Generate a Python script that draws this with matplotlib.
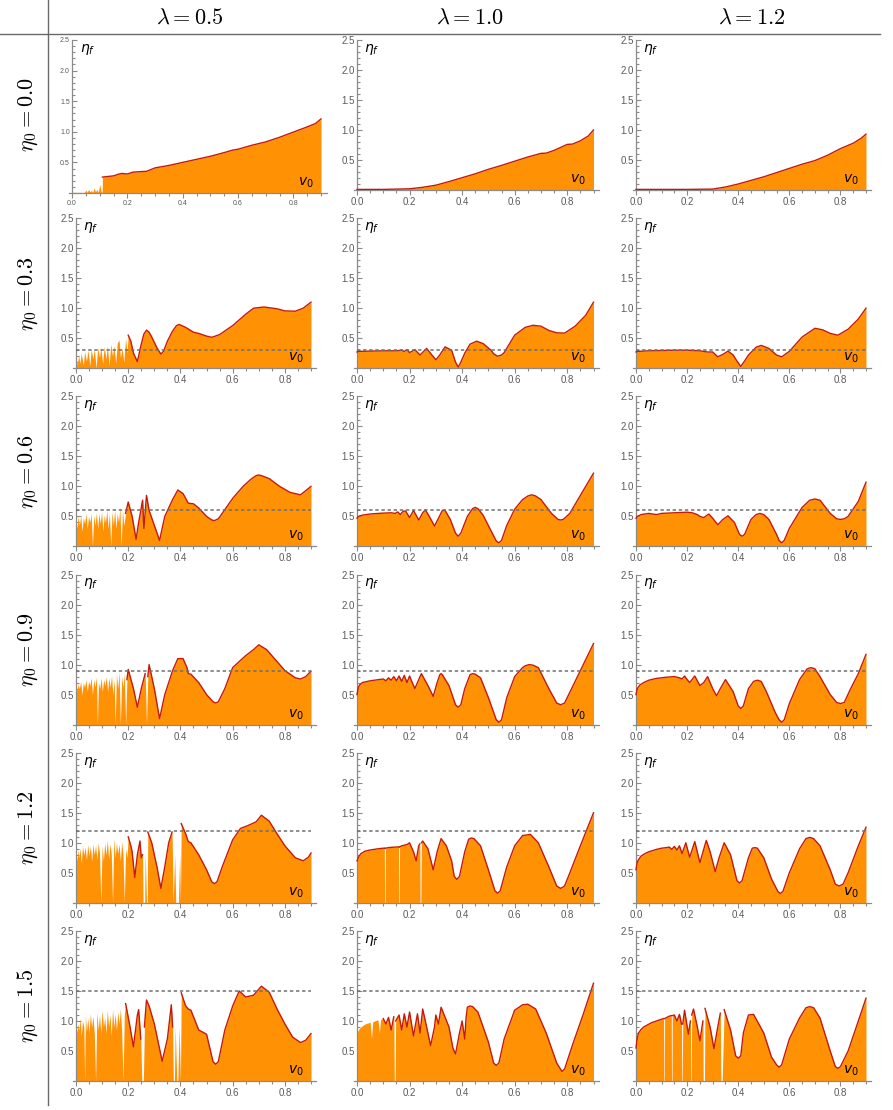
import matplotlib.pyplot as plt
import numpy as np
from matplotlib.lines import Line2D
from matplotlib.ticker import FixedLocator, MultipleLocator

plt.rcParams['font.family'] = ['Liberation Sans', 'DejaVu Sans']
plt.rcParams['mathtext.fontset'] = 'dejavusans'

lambda_labels = ['0.5', '1.0', '1.2']
eta0_values = [0.0, 0.3, 0.6, 0.9, 1.2, 1.5]
eta0_labels = ['0.0', '0.3', '0.6', '0.9', '1.2', '1.5']

# (v0, eta_f) pairs, eta_f = 0.0 marks a white gap
curve_l05_e00 = [(0.0, 0.01), (0.03, 0.01), (0.045, 0.01), (0.05, 0.05), (0.055, 0.01), (0.06, 0.06),
                 (0.065, 0.02), (0.07, 0.04), (0.075, 0.01), (0.08, 0.08), (0.085, 0.02), (0.09, 0.06),
                 (0.095, 0.01), (0.1, 0.14), (0.105, 0.03), (0.109, 0.01), (0.11, 0.26), (0.13, 0.27),
                 (0.15, 0.28), (0.17, 0.31), (0.18, 0.32), (0.2, 0.31), (0.22, 0.34), (0.25, 0.35),
                 (0.27, 0.355), (0.3, 0.41), (0.35, 0.45), (0.4, 0.50), (0.45, 0.55), (0.5, 0.60),
                 (0.55, 0.66), (0.58, 0.7), (0.6, 0.715), (0.65, 0.78), (0.7, 0.835), (0.75, 0.91),
                 (0.8, 0.995), (0.85, 1.08), (0.88, 1.135), (0.9, 1.21)]
curve_l10_e00 = [(0.0, 0.01), (0.1, 0.01), (0.2, 0.02), (0.25, 0.045), (0.3, 0.08), (0.35, 0.14),
                 (0.4, 0.205), (0.45, 0.27), (0.5, 0.345), (0.55, 0.41), (0.6, 0.48), (0.65, 0.55),
                 (0.7, 0.61), (0.72, 0.615), (0.75, 0.66), (0.8, 0.76), (0.82, 0.765), (0.85, 0.82),
                 (0.88, 0.9), (0.9, 1.0)]
curve_l12_e00 = [(0.0, 0.01), (0.1, 0.01), (0.2, 0.01), (0.3, 0.015), (0.35, 0.05), (0.4, 0.10),
                 (0.45, 0.16), (0.5, 0.22), (0.55, 0.29), (0.6, 0.36), (0.65, 0.43), (0.7, 0.49),
                 (0.75, 0.58), (0.8, 0.69), (0.85, 0.78), (0.88, 0.86), (0.9, 0.93)]

curve_l05_e03 = [(0.0, 0.2), (0.005, 0.05), (0.01, 0.22), (0.015, 0.08), (0.02, 0.25), (0.028, 0.05),
                 (0.033, 0.27), (0.04, 0.12), (0.046, 0.3), (0.053, 0.04), (0.058, 0.32), (0.065, 0.15),
                 (0.07, 0.33), (0.077, 0.0), (0.083, 0.34), (0.09, 0.18), (0.095, 0.35), (0.102, 0.08),
                 (0.108, 0.36), (0.115, 0.15), (0.12, 0.38), (0.127, 0.04), (0.133, 0.4), (0.14, 0.2),
                 (0.145, 0.38), (0.152, 0.08), (0.158, 0.42), (0.165, 0.47), (0.17, 0.18), (0.177, 0.33),
                 (0.183, 0.1), (0.19, 0.5), (0.195, 0.25), (0.2, 0.55), (0.21, 0.45), (0.22, 0.25),
                 (0.235, 0.11), (0.25, 0.4), (0.26, 0.57), (0.27, 0.635), (0.28, 0.6), (0.29, 0.52),
                 (0.31, 0.34), (0.325, 0.235), (0.335, 0.28), (0.35, 0.45), (0.37, 0.62), (0.385, 0.71),
                 (0.395, 0.73), (0.42, 0.68), (0.45, 0.6), (0.47, 0.58), (0.5, 0.535), (0.52, 0.515),
                 (0.55, 0.56), (0.6, 0.71), (0.65, 0.9), (0.68, 1.0), (0.72, 1.02), (0.77, 0.99),
                 (0.8, 0.955), (0.84, 0.95), (0.87, 1.0), (0.9, 1.1)]
curve_l10_e03 = [(0.0, 0.27), (0.005, 0.28), (0.05, 0.285), (0.1, 0.29), (0.15, 0.29), (0.17, 0.3),
                 (0.18, 0.28), (0.19, 0.31), (0.2, 0.26), (0.22, 0.31), (0.24, 0.22), (0.265, 0.33),
                 (0.285, 0.22), (0.3, 0.14), (0.315, 0.22), (0.335, 0.355), (0.36, 0.3), (0.375, 0.1),
                 (0.385, 0.02), (0.395, 0.1), (0.41, 0.25), (0.43, 0.4), (0.455, 0.45), (0.48, 0.41),
                 (0.51, 0.3), (0.52, 0.24), (0.535, 0.2), (0.55, 0.22), (0.56, 0.26), (0.6, 0.55),
                 (0.64, 0.68), (0.67, 0.715), (0.7, 0.7), (0.73, 0.63), (0.76, 0.59), (0.79, 0.585),
                 (0.83, 0.7), (0.87, 0.88), (0.9, 1.1)]
curve_l12_e03 = [(0.0, 0.27), (0.005, 0.28), (0.05, 0.29), (0.1, 0.295), (0.15, 0.3), (0.2, 0.3),
                 (0.25, 0.29), (0.28, 0.27), (0.3, 0.27), (0.32, 0.19), (0.34, 0.23), (0.36, 0.285),
                 (0.38, 0.22), (0.395, 0.12), (0.41, 0.03), (0.425, 0.12), (0.44, 0.22), (0.47, 0.35),
                 (0.49, 0.38), (0.52, 0.33), (0.55, 0.22), (0.57, 0.19), (0.6, 0.28), (0.65, 0.52),
                 (0.7, 0.665), (0.73, 0.64), (0.76, 0.58), (0.79, 0.55), (0.83, 0.65), (0.87, 0.82),
                 (0.9, 1.0)]

curve_l05_e06 = [(0.0, 0.45), (0.004, 0.3), (0.008, 0.5), (0.013, 0.35), (0.018, 0.52), (0.023, 0.25),
                 (0.028, 0.48), (0.033, 0.38), (0.038, 0.55), (0.043, 0.3), (0.048, 0.5), (0.053, 0.4),
                 (0.058, 0.55), (0.063, 0.0), (0.068, 0.52), (0.073, 0.35), (0.078, 0.56), (0.083, 0.3),
                 (0.088, 0.55), (0.093, 0.38), (0.098, 0.58), (0.103, 0.25), (0.108, 0.52), (0.113, 0.4),
                 (0.118, 0.6), (0.123, 0.3), (0.128, 0.55), (0.133, 0.0), (0.138, 0.58), (0.143, 0.35),
                 (0.148, 0.6), (0.153, 0.3), (0.158, 0.55), (0.163, 0.4), (0.168, 0.65), (0.173, 0.0),
                 (0.178, 0.6), (0.183, 0.35), (0.19, 0.55), (0.2, 0.74), (0.215, 0.5), (0.23, 0.12),
                 (0.24, 0.4), (0.255, 0.77), (0.26, 0.3), (0.27, 0.85), (0.28, 0.6), (0.3, 0.35),
                 (0.32, 0.1), (0.34, 0.5), (0.37, 0.78), (0.39, 0.94), (0.41, 0.88), (0.43, 0.72),
                 (0.45, 0.71), (0.47, 0.64), (0.5, 0.5), (0.52, 0.44), (0.53, 0.43), (0.545, 0.46),
                 (0.56, 0.55), (0.6, 0.8), (0.64, 1.0), (0.67, 1.12), (0.69, 1.18), (0.7, 1.19),
                 (0.71, 1.18), (0.74, 1.13), (0.78, 1.0), (0.82, 0.9), (0.86, 0.86), (0.9, 1.0)]
curve_l10_e06 = [(0.0, 0.47), (0.005, 0.5), (0.02, 0.52), (0.05, 0.54), (0.1, 0.555), (0.13, 0.56),
                 (0.145, 0.55), (0.155, 0.575), (0.165, 0.53), (0.175, 0.585), (0.185, 0.59), (0.2, 0.48),
                 (0.215, 0.6), (0.235, 0.44), (0.25, 0.56), (0.26, 0.61), (0.275, 0.5), (0.295, 0.34),
                 (0.31, 0.47), (0.325, 0.6), (0.335, 0.6), (0.355, 0.45), (0.375, 0.22), (0.385, 0.17),
                 (0.395, 0.22), (0.42, 0.5), (0.44, 0.63), (0.45, 0.65), (0.46, 0.63), (0.48, 0.52),
                 (0.51, 0.26), (0.53, 0.09), (0.54, 0.06), (0.55, 0.1), (0.57, 0.35), (0.6, 0.62),
                 (0.63, 0.78), (0.65, 0.84), (0.665, 0.86), (0.68, 0.84), (0.7, 0.78), (0.74, 0.55),
                 (0.765, 0.45), (0.775, 0.44), (0.785, 0.45), (0.81, 0.55), (0.85, 0.85), (0.9, 1.22)]
curve_l12_e06 = [(0.0, 0.47), (0.005, 0.5), (0.02, 0.53), (0.05, 0.55), (0.08, 0.53), (0.1, 0.55),
                 (0.15, 0.56), (0.2, 0.57), (0.22, 0.56), (0.24, 0.53), (0.25, 0.5), (0.265, 0.48),
                 (0.285, 0.54), (0.3, 0.47), (0.32, 0.36), (0.34, 0.45), (0.36, 0.51), (0.385, 0.4),
                 (0.405, 0.2), (0.415, 0.17), (0.425, 0.2), (0.45, 0.45), (0.47, 0.53), (0.485, 0.55),
                 (0.5, 0.53), (0.52, 0.45), (0.55, 0.2), (0.56, 0.1), (0.57, 0.06), (0.58, 0.1),
                 (0.6, 0.3), (0.65, 0.65), (0.68, 0.77), (0.7, 0.79), (0.72, 0.77), (0.76, 0.55),
                 (0.785, 0.46), (0.8, 0.45), (0.815, 0.46), (0.83, 0.5), (0.87, 0.75), (0.9, 1.07)]

curve_l05_e09 = [(0.0, 0.7), (0.004, 0.55), (0.008, 0.68), (0.013, 0.6), (0.018, 0.72), (0.023, 0.5),
                 (0.028, 0.7), (0.033, 0.62), (0.038, 0.75), (0.043, 0.55), (0.048, 0.72), (0.053, 0.65),
                 (0.058, 0.78), (0.063, 0.5), (0.068, 0.75), (0.073, 0.62), (0.078, 0.8), (0.082, 0.0),
                 (0.086, 0.7), (0.091, 0.6), (0.096, 0.78), (0.101, 0.55), (0.106, 0.75), (0.111, 0.65),
                 (0.116, 0.8), (0.121, 0.55), (0.126, 0.78), (0.131, 0.62), (0.136, 0.82), (0.141, 0.5),
                 (0.146, 0.75), (0.15, 0.0), (0.155, 0.85), (0.16, 0.6), (0.165, 0.88), (0.17, 0.0),
                 (0.175, 0.8), (0.18, 0.62), (0.185, 0.85), (0.19, 0.0), (0.195, 0.75), (0.2, 0.92),
                 (0.22, 0.6), (0.235, 0.29), (0.25, 0.6), (0.265, 0.85), (0.27, 0.0), (0.275, 0.8),
                 (0.28, 1.0), (0.3, 0.6), (0.32, 0.1), (0.34, 0.5), (0.37, 0.9), (0.39, 1.1),
                 (0.41, 1.1), (0.425, 0.95), (0.43, 0.85), (0.44, 0.84), (0.47, 0.7), (0.5, 0.5),
                 (0.525, 0.38), (0.535, 0.36), (0.545, 0.38), (0.57, 0.6), (0.6, 0.95), (0.65, 1.15),
                 (0.68, 1.25), (0.7, 1.33), (0.73, 1.25), (0.76, 1.1), (0.8, 0.9), (0.84, 0.78),
                 (0.86, 0.76), (0.88, 0.8), (0.9, 0.89)]
curve_l10_e09 = [(0.0, 0.5), (0.005, 0.62), (0.01, 0.66), (0.02, 0.7), (0.05, 0.73), (0.1, 0.76),
                 (0.11, 0.73), (0.12, 0.78), (0.13, 0.74), (0.14, 0.8), (0.15, 0.73), (0.16, 0.81),
                 (0.17, 0.72), (0.18, 0.82), (0.19, 0.7), (0.2, 0.81), (0.22, 0.6), (0.245, 0.85),
                 (0.27, 0.65), (0.29, 0.47), (0.305, 0.7), (0.315, 0.83), (0.32, 0.85), (0.325, 0.83),
                 (0.35, 0.65), (0.375, 0.33), (0.385, 0.29), (0.395, 0.33), (0.41, 0.6), (0.43, 0.83),
                 (0.44, 0.85), (0.45, 0.84), (0.47, 0.78), (0.5, 0.45), (0.53, 0.08), (0.54, 0.04),
                 (0.55, 0.08), (0.57, 0.45), (0.6, 0.8), (0.63, 0.95), (0.64, 0.98), (0.655, 1.0),
                 (0.67, 0.99), (0.69, 0.95), (0.73, 0.6), (0.76, 0.36), (0.775, 0.33), (0.79, 0.36),
                 (0.8, 0.45), (0.85, 0.9), (0.9, 1.35)]
curve_l12_e09 = [(0.0, 0.5), (0.005, 0.6), (0.015, 0.66), (0.03, 0.7), (0.05, 0.74), (0.08, 0.77),
                 (0.12, 0.79), (0.15, 0.8), (0.17, 0.78), (0.18, 0.76), (0.19, 0.81), (0.2, 0.75),
                 (0.21, 0.7), (0.23, 0.81), (0.25, 0.65), (0.265, 0.7), (0.28, 0.8), (0.3, 0.6),
                 (0.315, 0.48), (0.33, 0.6), (0.35, 0.75), (0.38, 0.55), (0.4, 0.31), (0.41, 0.27),
                 (0.42, 0.31), (0.44, 0.6), (0.46, 0.72), (0.475, 0.74), (0.49, 0.72), (0.51, 0.55),
                 (0.545, 0.2), (0.56, 0.08), (0.57, 0.04), (0.58, 0.08), (0.6, 0.35), (0.64, 0.75),
                 (0.67, 0.93), (0.685, 0.95), (0.7, 0.93), (0.72, 0.8), (0.76, 0.5), (0.785, 0.37),
                 (0.8, 0.35), (0.815, 0.37), (0.84, 0.6), (0.87, 0.85), (0.9, 1.17)]

curve_l05_e12 = [(0.0, 0.9), (0.004, 0.7), (0.008, 0.88), (0.012, 0.75), (0.016, 0.92), (0.02, 0.65),
                 (0.025, 0.95), (0.03, 0.8), (0.035, 0.93), (0.04, 0.72), (0.045, 0.97), (0.05, 0.78),
                 (0.055, 0.95), (0.06, 0.7), (0.065, 0.98), (0.07, 0.8), (0.075, 0.96), (0.08, 0.72),
                 (0.085, 1.0), (0.09, 0.82), (0.095, 0.0), (0.1, 0.95), (0.105, 0.7), (0.11, 1.0),
                 (0.115, 0.8), (0.12, 1.05), (0.125, 0.72), (0.13, 0.98), (0.135, 0.82), (0.14, 0.0),
                 (0.145, 1.08), (0.15, 0.75), (0.155, 1.0), (0.16, 0.82), (0.165, 0.98), (0.17, 0.7),
                 (0.175, 1.02), (0.18, 0.8), (0.185, 0.0), (0.19, 0.9), (0.195, 0.75), (0.2, 1.1),
                 (0.21, 0.95), (0.215, 0.85), (0.225, 0.42), (0.235, 0.8), (0.245, 1.03), (0.25, 0.75),
                 (0.255, 0.8), (0.257, 0.0), (0.263, 0.0), (0.265, 0.85), (0.27, 0.0), (0.273, 0.0),
                 (0.275, 1.18), (0.29, 1.0), (0.31, 0.6), (0.325, 0.24), (0.34, 0.6), (0.355, 1.0),
                 (0.368, 1.18), (0.372, 0.0), (0.378, 0.8), (0.382, 0.0), (0.392, 0.0), (0.397, 0.8),
                 (0.4, 0.0), (0.403, 1.32), (0.42, 1.15), (0.43, 1.02), (0.44, 1.0), (0.47, 0.8),
                 (0.5, 0.55), (0.52, 0.35), (0.53, 0.32), (0.54, 0.35), (0.56, 0.6), (0.6, 1.05),
                 (0.63, 1.24), (0.66, 1.29), (0.69, 1.35), (0.71, 1.46), (0.74, 1.36), (0.77, 1.15),
                 (0.8, 0.95), (0.84, 0.75), (0.87, 0.7), (0.89, 0.76), (0.9, 0.83)]
curve_l10_e12 = [(0.0, 0.7), (0.008, 0.78), (0.015, 0.82), (0.03, 0.86), (0.05, 0.88), (0.08, 0.9),
                 (0.1, 0.91), (0.104, 0.91), (0.105, 0.0), (0.107, 0.0), (0.108, 0.91), (0.12, 0.92),
                 (0.148, 0.93), (0.158, 0.93), (0.159, 0.0), (0.161, 0.0), (0.162, 0.93), (0.17, 0.95),
                 (0.19, 0.97), (0.2, 1.0), (0.215, 0.85), (0.225, 0.7), (0.235, 0.95), (0.239, 0.98),
                 (0.24, 0.0), (0.243, 0.0), (0.245, 1.0), (0.25, 1.03), (0.27, 0.9), (0.29, 0.55),
                 (0.305, 0.85), (0.32, 1.07), (0.34, 0.95), (0.36, 0.7), (0.37, 0.44), (0.38, 0.39),
                 (0.39, 0.44), (0.41, 0.85), (0.425, 1.06), (0.435, 1.08), (0.445, 1.07), (0.47, 0.95),
                 (0.5, 0.55), (0.525, 0.2), (0.535, 0.16), (0.545, 0.2), (0.57, 0.6), (0.6, 0.95),
                 (0.63, 1.12), (0.66, 1.14), (0.69, 1.0), (0.73, 0.6), (0.76, 0.28), (0.775, 0.24),
                 (0.79, 0.28), (0.81, 0.5), (0.85, 0.95), (0.9, 1.5)]
curve_l12_e12 = [(0.0, 0.55), (0.005, 0.68), (0.01, 0.72), (0.02, 0.78), (0.035, 0.82), (0.05, 0.85),
                 (0.08, 0.89), (0.1, 0.91), (0.12, 0.92), (0.13, 0.93), (0.14, 0.89), (0.15, 0.94),
                 (0.16, 0.88), (0.17, 0.95), (0.18, 0.82), (0.195, 1.0), (0.21, 0.76), (0.23, 1.02),
                 (0.25, 0.67), (0.275, 1.04), (0.29, 0.85), (0.31, 0.52), (0.325, 0.75), (0.345, 1.0),
                 (0.37, 0.8), (0.395, 0.37), (0.405, 0.33), (0.415, 0.37), (0.44, 0.75), (0.455, 0.91),
                 (0.465, 0.92), (0.475, 0.91), (0.5, 0.75), (0.53, 0.4), (0.555, 0.19), (0.565, 0.155),
                 (0.575, 0.19), (0.6, 0.5), (0.64, 0.9), (0.665, 1.07), (0.68, 1.09), (0.695, 1.07),
                 (0.72, 0.95), (0.76, 0.55), (0.78, 0.31), (0.795, 0.28), (0.81, 0.31), (0.83, 0.5),
                 (0.87, 0.95), (0.9, 1.26)]

curve_l05_e15 = [(0.0, 1.0), (0.004, 0.8), (0.008, 0.95), (0.012, 0.85), (0.016, 1.05), (0.02, 0.75),
                 (0.025, 1.0), (0.03, 0.9), (0.033, 0.0), (0.036, 1.1), (0.04, 0.82), (0.045, 1.05),
                 (0.05, 0.8), (0.055, 1.12), (0.06, 0.9), (0.065, 1.08), (0.07, 0.8), (0.075, 0.0),
                 (0.08, 1.15), (0.085, 0.85), (0.09, 1.1), (0.095, 0.8), (0.1, 1.18), (0.105, 0.9),
                 (0.11, 1.05), (0.115, 0.8), (0.12, 1.18), (0.125, 0.9), (0.13, 1.1), (0.135, 0.75),
                 (0.14, 1.2), (0.145, 0.9), (0.15, 1.12), (0.155, 0.85), (0.16, 1.15), (0.165, 0.95),
                 (0.17, 1.2), (0.175, 0.82), (0.18, 0.0), (0.185, 1.1), (0.19, 1.29), (0.205, 0.95),
                 (0.22, 0.57), (0.235, 1.1), (0.24, 1.19), (0.248, 0.7), (0.252, 0.0), (0.258, 0.0),
                 (0.262, 0.9), (0.27, 1.35), (0.28, 1.25), (0.3, 0.95), (0.33, 0.33), (0.35, 0.7),
                 (0.365, 1.27), (0.37, 0.9), (0.373, 0.0), (0.377, 0.0), (0.38, 0.9), (0.386, 0.0),
                 (0.39, 0.0), (0.395, 0.9), (0.4, 0.0), (0.403, 1.47), (0.42, 1.25), (0.43, 1.2),
                 (0.44, 1.18), (0.47, 0.85), (0.5, 0.78), (0.525, 0.32), (0.535, 0.28), (0.545, 0.32),
                 (0.57, 0.85), (0.6, 1.25), (0.625, 1.5), (0.65, 1.4), (0.68, 1.43), (0.71, 1.58),
                 (0.74, 1.48), (0.77, 1.2), (0.8, 0.95), (0.83, 0.73), (0.86, 0.64), (0.88, 0.68),
                 (0.9, 0.79)]
curve_l10_e15 = [(0.0, 0.8), (0.005, 0.85), (0.01, 0.88), (0.02, 0.92), (0.03, 0.95), (0.05, 0.98),
                 (0.055, 0.7), (0.06, 0.99), (0.08, 1.02), (0.085, 0.8), (0.09, 1.03), (0.1, 1.04),
                 (0.11, 0.95), (0.12, 1.06), (0.13, 0.85), (0.14, 1.07), (0.142, 0.0), (0.145, 0.0),
                 (0.147, 1.0), (0.16, 1.1), (0.17, 0.85), (0.18, 1.12), (0.19, 0.9), (0.2, 1.15),
                 (0.215, 0.75), (0.23, 1.12), (0.24, 0.8), (0.25, 1.2), (0.265, 0.9), (0.28, 0.59),
                 (0.295, 0.9), (0.3, 1.1), (0.31, 0.95), (0.32, 1.23), (0.35, 0.9), (0.365, 0.55),
                 (0.375, 0.45), (0.39, 0.8), (0.4, 1.0), (0.41, 0.7), (0.415, 1.05), (0.42, 1.23),
                 (0.43, 1.25), (0.44, 1.24), (0.46, 1.15), (0.5, 0.65), (0.52, 0.3), (0.53, 0.26),
                 (0.54, 0.3), (0.56, 0.7), (0.6, 1.18), (0.63, 1.27), (0.65, 1.28), (0.68, 1.2),
                 (0.72, 0.8), (0.76, 0.3), (0.78, 0.16), (0.79, 0.2), (0.82, 0.6), (0.86, 1.1),
                 (0.9, 1.63)]
curve_l12_e15 = [(0.0, 0.55), (0.005, 0.72), (0.01, 0.8), (0.02, 0.86), (0.03, 0.9), (0.06, 0.97),
                 (0.1, 1.03), (0.108, 1.04), (0.109, 0.0), (0.111, 0.0), (0.112, 1.04), (0.13, 1.08),
                 (0.138, 1.09), (0.139, 0.0), (0.141, 0.0), (0.142, 1.09), (0.15, 1.1), (0.16, 1.0),
                 (0.17, 1.11), (0.178, 0.95), (0.179, 0.0), (0.181, 0.0), (0.183, 0.95), (0.19, 1.18),
                 (0.205, 0.78), (0.213, 1.0), (0.214, 0.0), (0.216, 0.0), (0.218, 1.1), (0.225, 1.2),
                 (0.24, 0.9), (0.25, 0.67), (0.262, 1.0), (0.263, 0.0), (0.268, 0.0), (0.27, 1.21),
                 (0.29, 0.9), (0.305, 0.54), (0.32, 0.9), (0.33, 1.13), (0.332, 0.0), (0.337, 0.0),
                 (0.345, 1.19), (0.37, 0.85), (0.39, 0.42), (0.4, 0.38), (0.41, 0.42), (0.42, 0.8),
                 (0.44, 1.1), (0.46, 1.11), (0.5, 0.8), (0.53, 0.4), (0.55, 0.27), (0.56, 0.23),
                 (0.57, 0.27), (0.6, 0.7), (0.64, 1.05), (0.665, 1.22), (0.68, 1.24), (0.695, 1.22),
                 (0.72, 1.05), (0.76, 0.5), (0.78, 0.24), (0.79, 0.21), (0.8, 0.24), (0.83, 0.5),
                 (0.87, 1.0), (0.9, 1.38)]

# below these v0 values the curves are a spiky cloud without outline
chaos_end_l05 = [0.11, 0.2, 0.19, 0.19, 0.2, 0.19]
chaos_end_l10 = [0.0, 0.0, 0.0, 0.0, 0.0, 0.1]
chaos_end_l12 = [0.0, 0.0, 0.0, 0.0, 0.0, 0.0]

curves = [
    [curve_l05_e00, curve_l10_e00, curve_l12_e00],
    [curve_l05_e03, curve_l10_e03, curve_l12_e03],
    [curve_l05_e06, curve_l10_e06, curve_l12_e06],
    [curve_l05_e09, curve_l10_e09, curve_l12_e09],
    [curve_l05_e12, curve_l10_e12, curve_l12_e12],
    [curve_l05_e15, curve_l10_e15, curve_l12_e15],
]
chaos_ends = [chaos_end_l05, chaos_end_l10, chaos_end_l12]

W, H = 893, 1110
ORANGE = '#FF9105'
EDGE = '#C41A0C'
GRAY = '#8a8a8a'
TICK_TXT = '#5a5a5a'

fig = plt.figure(figsize=(W / 100, H / 100), dpi=100)

col_x0 = [76, 357, 636]
col_x9 = [311, 593.5, 866]
row_pitch = 178.2


def add_panel(x0, x9, ytop, y0):
    s = (x9 - x0) / 0.9
    left = x0 - 0.012 * s
    right = x0 + 0.92 * s
    ax = fig.add_axes([left / W, 1 - y0 / H, (right - left) / W, (y0 - ytop) / H])
    ax.set_xlim(-0.012, 0.92)
    ax.set_ylim(0, 2.5)
    return ax


for r in range(6):
    for c in range(3):
        if r == 0 and c == 0:
            ax = add_panel(72, 321, 40, 193)
            tsize = 5
        else:
            ax = add_panel(col_x0[c], col_x9[c], 40 + row_pitch * r, 190 + row_pitch * r)
            tsize = 7

        pts = np.array(curves[r][c])
        v, eta = pts[:, 0], pts[:, 1]
        ax.fill_between(v, 0, eta, color=ORANGE, lw=0, zorder=2)
        edge = np.where((v >= chaos_ends[c][r]) & (eta > 0), eta, np.nan)
        ax.plot(v, edge, color=EDGE, lw=1.0, zorder=3, solid_joinstyle='round')

        if eta0_values[r] > 0:
            ax.plot([0, 0.9], [eta0_values[r]] * 2, color='#6f6f6f', lw=1.1,
                    ls=(0, (2.2, 1.8)), zorder=4)

        for side in ['top', 'right']:
            ax.spines[side].set_visible(False)
        ax.spines['left'].set_position(('data', 0))
        ax.spines['left'].set_color(GRAY)
        ax.spines['bottom'].set_color(GRAY)
        ax.spines['left'].set_linewidth(0.9)
        ax.spines['bottom'].set_linewidth(0.9)
        ax.patch.set_alpha(0)

        ax.xaxis.set_major_locator(FixedLocator([0, 0.2, 0.4, 0.6, 0.8]))
        ax.xaxis.set_minor_locator(FixedLocator([0.05, 0.1, 0.15, 0.25, 0.3, 0.35, 0.45, 0.5,
                                                 0.55, 0.65, 0.7, 0.75, 0.85, 0.9]))
        ax.set_xticklabels(['0.0', '0.2', '0.4', '0.6', '0.8'])
        ax.yaxis.set_major_locator(FixedLocator([0.5, 1.0, 1.5, 2.0, 2.5]))
        ax.yaxis.set_minor_locator(MultipleLocator(0.1))
        ax.set_yticklabels(['0.5', '1.0', '1.5', '2.0', '2.5'])
        ax.tick_params(axis='both', which='both', color=GRAY, labelcolor=TICK_TXT,
                       labelsize=tsize, width=0.8, pad=1.5)
        ax.tick_params(axis='x', which='major', direction='out', length=3.5)
        ax.tick_params(axis='x', which='minor', direction='out', length=2)
        ax.tick_params(axis='y', which='major', direction='in', length=3.5)
        ax.tick_params(axis='y', which='minor', direction='in', length=2)

        ax.text(0.028, 2.47, r'$\eta_f$', fontsize=10, ha='left', va='top', zorder=5)
        ax.text(0.872, 0.05, r'$v_0$', fontsize=10, ha='right', va='bottom', zorder=5)

# column headers and row labels
col_centers = [190, 470, 752]
for c in range(3):
    fig.text(col_centers[c] / W, 1 - 18 / H, r'$\lambda = %s$' % lambda_labels[c],
             fontsize=16, ha='center', va='center', math_fontfamily='cm')
for r in range(6):
    fig.text(28 / W, 1 - (115 + row_pitch * r) / H, r'$\eta_0 = %s$' % eta0_labels[r],
             fontsize=16, ha='center', va='center', rotation=90, math_fontfamily='cm')

fig.add_artist(Line2D([48 / W, 48 / W], [1, 1 - 1105 / H], transform=fig.transFigure,
                      color='#6a6a6a', lw=1.0))
fig.add_artist(Line2D([0, 880 / W], [1 - 34 / H, 1 - 34 / H], transform=fig.transFigure,
                      color='#6a6a6a', lw=1.0))

fig.savefig('out.png', dpi=100)
